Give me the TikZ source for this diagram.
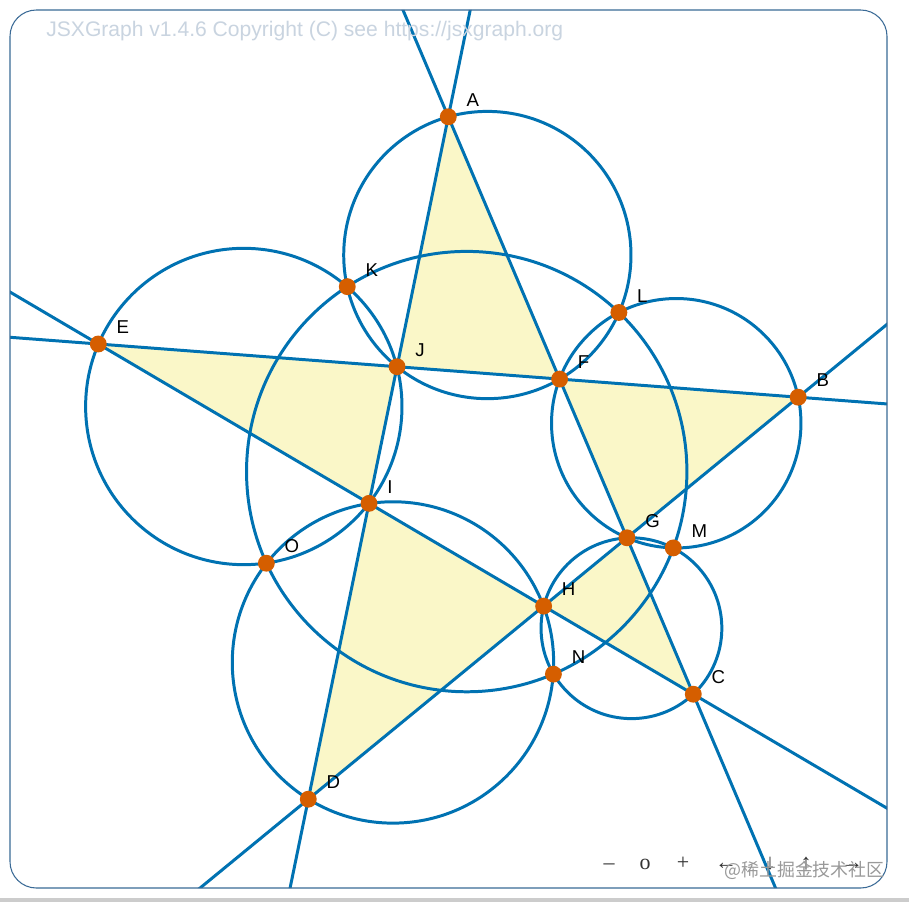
\documentclass[tikz,border=0pt]{standalone}
\usepackage{fontspec}
\setmainfont{Liberation Sans}
\newfontfamily\navfont{Liberation Serif}
\newfontfamily\cjkfont{Noto Sans CJK SC}
\usetikzlibrary{calc}
\definecolor{jxblue}{HTML}{0072B2}
\definecolor{jxorange}{HTML}{D55E00}
\definecolor{jxfill}{HTML}{FAF7C8}
\definecolor{frameblue}{HTML}{3A6A96}
\definecolor{hdrgray}{HTML}{C9D4E0}
\newcommand\circumc[4]{%
  \coordinate (#1m1) at ($(#2)!0.5!(#3)$);
  \coordinate (#1n1) at ($(#1m1)!1!90:(#3)$);
  \coordinate (#1m2) at ($(#2)!0.5!(#4)$);
  \coordinate (#1n2) at ($(#1m2)!1!90:(#4)$);
  \coordinate (#1) at (intersection of #1m1--#1n1 and #1m2--#1n2);
}
\newcommand\otherpt[4]{%
  \coordinate (#1f) at ($(#3)!(#2)!(#4)$);
  \coordinate (#1) at ($(#2)!2!(#1f)$);
}
\newcommand\circdraw[2]{%
  \draw[geo] let \p1=($(#2)-(#1)$), \n1={veclen(\x1,\y1)} in (#1) circle (\n1);
}
\begin{document}
\begin{tikzpicture}[x=0.02cm,y=-0.02cm,
  geo/.style={draw=jxblue,line width=1.7pt},
  ptdot/.style={circle,fill=jxorange,inner sep=0pt,minimum size=9.6pt},
  lbl/.style={anchor=south west,inner sep=0pt,font=\fontsize{10.6}{12}\selectfont,text=black},
  navtxt/.style={anchor=base,inner sep=0pt,font=\navfont\fontsize{12.5}{14}\selectfont,text=black!80}]
\useasboundingbox (0,0) rectangle (909,902);
\fill[white] (0,0) rectangle (909,902);
\fill[black!20] (0,898) rectangle (909,902);

% star points
\coordinate (A) at (448.3,116.8);
\coordinate (B) at (798.2,397.2);
\coordinate (C) at (693.3,694.2);
\coordinate (D) at (308.3,799.2);
\coordinate (E) at (98.3,344.0);
% inner intersections
\coordinate (F) at (intersection of A--C and E--B);
\coordinate (G) at (intersection of A--C and D--B);
\coordinate (H) at (intersection of D--B and E--C);
\coordinate (I) at (intersection of E--C and A--D);
\coordinate (J) at (intersection of A--D and E--B);
% circumcentres
\circumc{cA}{A}{J}{F}
\circumc{cB}{B}{F}{G}
\circumc{cC}{C}{G}{H}
\circumc{cD}{D}{H}{I}
\circumc{cE}{E}{I}{J}
% Miquel points
\otherpt{K}{J}{cA}{cE}
\otherpt{L}{F}{cA}{cB}
\otherpt{M}{G}{cB}{cC}
\otherpt{N}{H}{cC}{cD}
\otherpt{O}{I}{cD}{cE}
\circumc{cM}{K}{L}{M}

\begin{scope}
\clip[rounded corners=15] (10,10) rectangle (887,888);
\fill[jxfill,even odd rule] (A) -- (C) -- (E) -- (B) -- (D) -- cycle;
\draw[geo] ($(A)!-3!(C)$) -- ($(A)!4!(C)$);
\draw[geo] ($(A)!-3!(D)$) -- ($(A)!4!(D)$);
\draw[geo] ($(E)!-3!(B)$) -- ($(E)!4!(B)$);
\draw[geo] ($(E)!-3!(C)$) -- ($(E)!4!(C)$);
\draw[geo] ($(D)!-3!(B)$) -- ($(D)!4!(B)$);
\circdraw{cA}{A}
\circdraw{cB}{B}
\circdraw{cC}{C}
\circdraw{cD}{D}
\circdraw{cE}{E}
\circdraw{cM}{K}
\end{scope}

\node[anchor=base west,inner sep=0pt,text=hdrgray,font=\fontsize{12}{14}\selectfont] (hdr) at (46,37) {JSXGraph v1.4.6 Copyright (C) see https://jsxgraph.org};

\foreach \p in {A,B,C,D,E,F,G,H,I,J,K,L,M,N,O}{
  \node[ptdot] (d\p) at (\p) {};
  \node[lbl] (l\p) at ($(\p)+(18,-10)$) {\p};
}

\draw[frameblue,line width=0.6pt,rounded corners=15] (10,10) rectangle (887,888);

\node[navtxt] (n1) at (609,869) {–};
\node[navtxt] (n2) at (645,869) {o};
\node[navtxt] (n3) at (683,869) {+};
\node[navtxt] (n4) at (726,869) {←};
\node[navtxt] (n5) at (770,869) {↓};
\node[navtxt] (n6) at (806,869) {↑};
\node[navtxt] (n7) at (852,869) {→};
\node[anchor=base east,inner sep=0pt,text=black!40,font=\cjkfont\fontsize{10.2}{12}\selectfont] (wm) at (885,876) {@稀土掘金技术社区};
\end{tikzpicture}
\end{document}
